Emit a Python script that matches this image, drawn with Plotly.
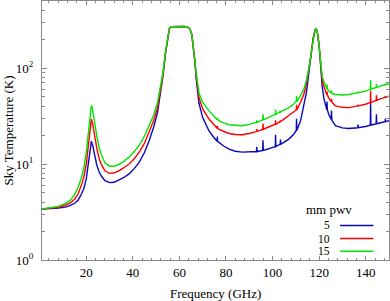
import plotly.graph_objects as go

# ---- data ----
freq_ghz = [1, 4, 8, 11, 13, 15, 16.5, 18, 19, 20, 20.8, 21.5, 22.2, 22.8, 23.5, 24.5, 25.5, 26.5, 28, 30,
            32, 34, 36, 38.4, 40.5, 42.7, 45, 47, 49, 50.6, 52, 53, 54, 55, 55.7, 56.5, 58, 60, 62, 63.5,
            64.5, 65.3, 66, 66.6, 67.2, 68.4, 70, 72.7, 75, 76.18, 76.3, 76.42, 77, 79, 81.3, 84, 87, 90,
            93.08, 93.2, 93.32, 93.4, 95.78, 95.9, 96.02, 97, 101.18, 101.3, 101.42, 103.28, 103.4, 103.52,
            104, 107, 109, 110.18, 110.3, 110.42, 110.6, 112, 113.4, 114.5, 115.6, 116.5, 117.4, 118.2,
            118.75, 119.3, 120, 120.6, 121.3, 122, 123, 123.28, 123.4, 123.52, 124.1, 125.18, 125.3, 125.42,
            125.5, 127, 130, 132.7, 136, 136.58, 136.7, 136.82, 139.9, 141.98, 142.1, 142.22, 143, 144.48,
            144.6, 144.72, 146, 148.28, 148.4, 148.52, 150]

t_sky_5mm = [3.4, 3.42, 3.47, 3.56, 3.68, 3.9, 4.2, 4.9, 5.6, 7.0, 9.5, 13.5, 17.3, 15.5, 12.5, 9.8, 8.3, 7.5, 6.7, 6.4,
             6.45, 6.75, 7.2, 7.9, 8.9, 10.4, 13.2, 17.5, 24.5, 34.4, 55, 85, 140, 215, 258, 270, 271, 272, 271, 268,
             255, 225, 170, 120, 78, 43, 30.5, 22.2, 18.7, 17.3, 19.4, 17.3, 16.8, 15.4, 14.3, 13.6, 13.3, 13.3,
             13.5, 15.1, 13.5, 13.5, 13.9, 17.7, 13.9, 14.1, 15.2, 20.2, 15.2, 16.1, 18.0, 16.1,
             16.3, 18.2, 20.3, 22.4, 29.6, 22.4, 23, 28, 40.4, 55, 90, 135, 200, 248,
             255, 230, 170, 110, 65, 49, 39, 36.8, 44.9, 36.8, 33, 29.1, 36.1, 29.1,
             28.5, 25.1, 23.8, 23.5, 23.8, 23.9, 25.8, 23.9, 24.6, 25.4, 44, 25.4, 25.7, 26.3,
             33, 26.3, 26.8, 27.7, 29.6, 27.7, 28.3]

t_sky_10mm = [3.4, 3.45, 3.55, 3.72, 3.92, 4.3, 4.9, 6.1, 7.4, 10.0, 14.5, 22, 29.4, 26, 19.5, 14.7, 11.5, 9.9, 8.5, 8.0,
              8.1, 8.5, 9.1, 10, 11.3, 13.2, 16.5, 21.3, 28.5, 38.7, 59, 88, 143, 217, 259, 270, 271, 272, 271, 268,
              255, 225, 170, 121, 84, 49, 37.5, 29.4, 25.5, 23.6, 25.0, 23.6, 23, 21.8, 20.8, 20.3, 20.2, 20.8,
              21.8, 23.1, 21.8, 21.9, 23.0, 26.4, 23.0, 23.6, 26, 28.6, 26, 27.8, 28.4, 27.8,
              28.3, 31.8, 34.3, 36.6, 41.4, 36.6, 37.2, 44, 53, 68, 95, 137, 201, 248,
              255, 230, 170, 112, 75, 65, 55, 52.8, 57.0, 52.8, 49, 44.7, 47.8, 44.7,
              44, 40.4, 39, 38.7, 40, 40.4, 41.6, 40.4, 42, 43.8, 58, 43.8, 44.5, 46.1,
              52, 46.1, 47.5, 49.6, 51, 49.6, 51]

t_sky_15mm = [3.4, 3.48, 3.62, 3.87, 4.15, 4.8, 5.7, 7.3, 9.2, 13.2, 20, 31, 41, 36, 27, 19.8, 14.8, 12.5, 10.3, 9.5,
              9.5, 9.9, 10.6, 11.8, 13.4, 15.6, 19.6, 25.1, 32.5, 43.6, 64, 92, 146, 219, 260, 270, 271, 272, 271, 268,
              255, 225, 170, 122, 90, 55, 44, 35.8, 31.3, 29.0, 30.2, 29.0, 28.3, 26.8, 25.7, 25.2, 25.1, 25.9,
              27.1, 28.5, 27.1, 27.2, 28.9, 32.9, 28.9, 29.6, 33, 37.0, 33, 35.0, 35.7, 35.0,
              35.6, 38.7, 42, 44.8, 51.1, 44.8, 45.5, 51.5, 60, 74, 98, 139, 202, 248,
              255, 230, 170, 114, 82, 73, 63, 61, 67.7, 61, 57.6, 54.9, 58.7, 54.9,
              54.5, 53, 52.5, 53, 55, 55.5, 57.2, 55.5, 57.6, 60, 75, 60, 61, 62.9,
              68, 62.9, 64.5, 67, 69, 67, 68.6]

series_names = ["5", "10", "15"]
series_colors = ["#0a0ab4", "#ff0000", "#00e600"]
legend_title = "mm pwv"

x_tick_vals = [20, 40, 60, 80, 100, 120, 140]
x_tick_text = ["20", "40", "60", "80", "100", "120", "140"]
y_tick_vals = [1, 10, 100]
y_tick_text = ["10<sup>0</sup>", "10<sup>1</sup>", "10<sup>2</sup>"]
y_minor_vals = [2, 3, 4, 5, 6, 7, 8, 9, 20, 30, 40, 50, 60, 70, 80, 90, 200, 300, 400]

# ---- figure ----
W, H = 390, 301
ML, MR, MT, MB = 42, 1, 1, 41
pw, ph = W - ML - MR, H - MT - MB

def px_x(px):
    return (px - ML) / pw

def px_y(py):
    return (H - MB - py) / ph

FONT = "Liberation Serif, Times New Roman, Times, serif"
frame = "#8a8a8a"

fig = go.Figure()
for name, vals, col in zip(series_names, [t_sky_5mm, t_sky_10mm, t_sky_15mm], series_colors):
    fig.add_trace(go.Scatter(x=freq_ghz, y=vals, mode="lines", name=name,
                             line=dict(color=col, width=1.4), showlegend=False))

fig.update_layout(
    width=W, height=H,
    margin=dict(l=ML, r=MR, t=MT, b=MB, autoexpand=False),
    paper_bgcolor="white", plot_bgcolor="white",
    font=dict(family=FONT, size=13, color="black"),
)
fig.update_xaxes(
    range=[1, 150], showgrid=False, zeroline=False, automargin=False,
    showline=True, linecolor=frame, linewidth=1, mirror="allticks",
    ticks="inside", ticklen=4, tickcolor=frame,
    tickmode="array", tickvals=x_tick_vals, ticktext=x_tick_text,
    minor=dict(ticks="inside", ticklen=2, tickcolor=frame, dtick=4, tick0=0, showgrid=False),
    tickfont=dict(family=FONT, size=13),
)
fig.update_yaxes(
    type="log", range=[0, 2.69897], showgrid=False, zeroline=False, automargin=False,
    showline=True, linecolor=frame, linewidth=1, mirror="allticks",
    ticks="inside", ticklen=5, tickcolor=frame,
    tickmode="array", tickvals=y_tick_vals, ticktext=y_tick_text,
    minor=dict(ticks="inside", ticklen=3, tickcolor=frame, tickmode="array",
               tickvals=y_minor_vals, showgrid=False),
    ticklabelstandoff=5,
    tickfont=dict(family=FONT, size=13),
)

# axis titles placed as text
fig.add_annotation(text="Frequency (GHz)", xref="paper", yref="paper", x=0.5, y=px_y(293),
                   xanchor="center", yanchor="middle", showarrow=False,
                   font=dict(family=FONT, size=13))
fig.add_annotation(text="Sky Temperature (K)", xref="paper", yref="paper", x=px_x(8), y=0.5,
                   xanchor="center", yanchor="middle", textangle=-90, showarrow=False,
                   font=dict(family=FONT, size=13))

# ---- legend drawn by hand: label left, line sample right ----
fig.add_annotation(text=legend_title, xref="paper", yref="paper", x=px_x(329.3), y=px_y(209.5),
                   xanchor="center", yanchor="middle", showarrow=False, font=dict(family=FONT, size=13))
rows_py = [225.5, 238.5, 251.3]
for name, col, py in zip(series_names, series_colors, rows_py):
    fig.add_annotation(text=name, xref="paper", yref="paper", x=px_x(332), y=px_y(py),
                       xanchor="right", yanchor="middle", showarrow=False,
                       font=dict(family=FONT, size=11.5))
    fig.add_shape(type="line", xref="paper", yref="paper",
                  x0=px_x(340), x1=px_x(373.5), y0=px_y(py), y1=px_y(py),
                  line=dict(color=col, width=1.4))

fig.write_html("out.html", config={"displayModeBar": False},
               post_script="document.body.style.margin='0';document.body.style.padding='0';")
